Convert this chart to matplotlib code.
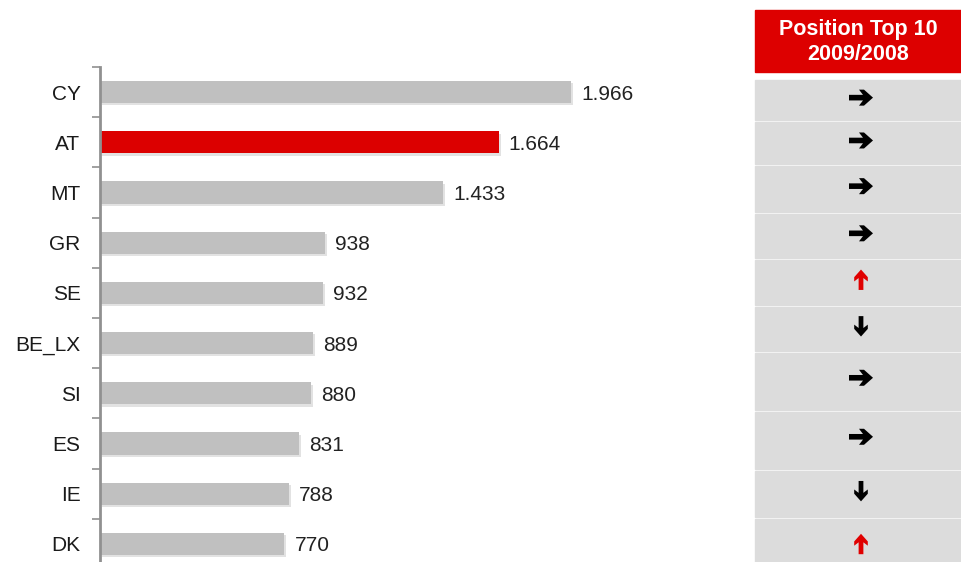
import numpy as np
import matplotlib
matplotlib.use("Agg")
import matplotlib.pyplot as plt
from matplotlib.patches import Rectangle, Polygon

plt.rcParams['font.family'] = ['Liberation Sans', 'DejaVu Sans']

countries = ['CY', 'AT', 'MT', 'GR', 'SE', 'BE_LX', 'SI', 'ES', 'IE', 'DK']
values = [1966, 1664, 1433, 938, 932, 889, 880, 831, 788, 770]
value_labels = ['1.966', '1.664', '1.433', '938', '932', '889', '880', '831', '788', '770']
highlight = 'AT'
# direction of position change 2009 vs 2008
moves = ['right', 'right', 'right', 'right', 'up', 'down', 'right', 'right', 'down', 'up']
header = 'Position Top 10\n2009/2008'

# table row edges in pixels from the top (rows are not evenly spaced)
row_edges = [80, 122, 166, 214, 260, 307, 353, 412, 471, 519, 570]

W, H = 961, 562
fig = plt.figure(figsize=(W / 100, H / 100), dpi=100)

# bar chart
ax_left, ax_top, ax_w = 100, 67, 600
ax = fig.add_axes([ax_left / W, 0, ax_w / W, 1 - ax_top / H])
n = len(countries)
y = np.arange(n)
gray = '#c0c0c0'
red = '#dc0000'
colors = [red if c == highlight else gray for c in countries]
# soft shadow under bars
ax.barh(y + 0.045, values, height=0.44, left=8, color='#e2e2e2', zorder=1)
ax.barh(y, values, height=0.44, color=colors, zorder=2)
px_per_unit = 471 / 1966
ax.set_xlim(0, ax_w / px_per_unit)
ax.set_ylim(-0.5 + (H - ax_top) / 50.2, -0.5)
for yi, v, lab in zip(y, values, value_labels):
    ax.text(v + 42, yi + 0.04, lab, va='center', ha='left', fontsize=15, color='#222222')

ax.set_yticks(y)
ax.set_yticklabels(countries, fontsize=15, color='#1a1a1a')
ax.set_yticks(np.arange(n) - 0.5, minor=True)
ax.tick_params(axis='y', which='major', length=0, pad=14)
ax.tick_params(axis='y', which='minor', length=6, width=1.2, color='#909090')
ax.set_xticks([])
for s in ['top', 'right', 'bottom']:
    ax.spines[s].set_visible(False)
ax.spines['left'].set_color('#909090')
ax.spines['left'].set_linewidth(2)

# position table
tab = fig.add_axes([0, 0, 1, 1])
tab.set_xlim(0, W)
tab.set_ylim(H, 0)
tab.axis('off')
tx0, tx1 = 755, 961
tab.add_patch(Rectangle((tx0, 10), tx1 - tx0, 62, color='#dd0000'))
tab.text((tx0 + tx1) / 2, 42, header, ha='center', va='center', color='white',
         fontsize=15.5, fontweight='bold', linespacing=1.2)

# arrow shape pointing right, centred on 0
shape = np.array([(-12, -2.8), (2, -2.8), (-2, -8), (3, -8), (12, 0), (3, 8),
                  (-2, 8), (2, 2.8), (-12, 2.8)])
rot = {'right': np.array([[1, 0], [0, 1]]),
       'up': np.array([[0, 1], [-1, 0]]) * 0.85,
       'down': np.array([[0, -1], [1, 0]]) * 0.85}

cx = (tx0 + tx1) / 2 + 3
for i, mv in enumerate(moves):
    top, bot = row_edges[i], row_edges[i + 1]
    tab.add_patch(Rectangle((tx0, top), tx1 - tx0, bot - top - 2.5, color='#dcdcdc'))
    cy = top + (bot - top) * 0.42 if i < n - 1 else top + 25
    col = '#e00000' if mv == 'up' else 'black'
    pts = shape @ rot[mv].T + [cx, cy]
    tab.add_patch(Polygon(pts, closed=True, color=col, lw=0))

fig.savefig('out.png', dpi=100, facecolor='white')
